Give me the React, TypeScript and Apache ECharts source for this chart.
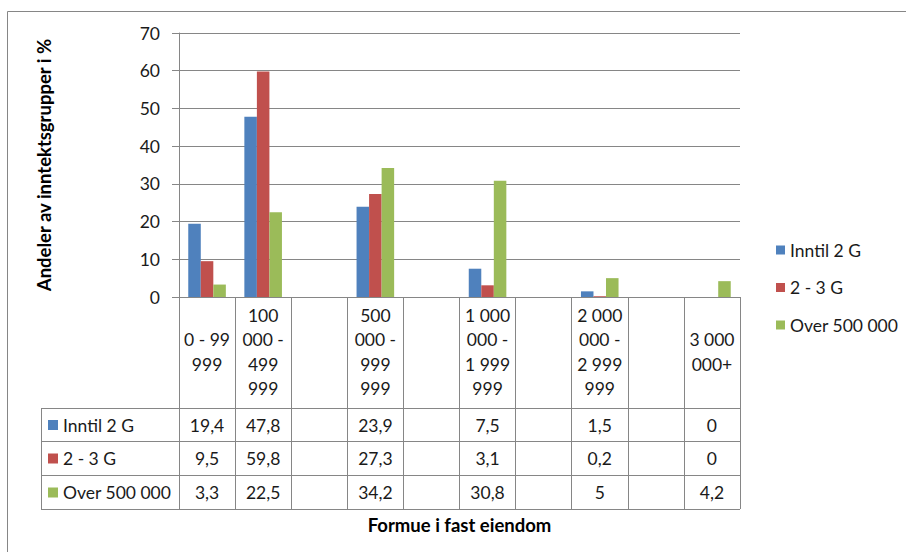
import React, { useEffect, useRef } from "react";
import * as echarts from "echarts";

// Wealth brackets (blank slots keep the uneven spacing of the brackets)
const categories = [
  "0 - 99\n999",
  "100\n000 -\n499\n999",
  "",
  "500\n000 -\n999\n999",
  "",
  "1 000\n000 -\n1 999\n999",
  "",
  "2 000\n000 -\n2 999\n999",
  "",
  "3 000\n000+",
];

const seriesNames = ["Inntil 2 G", "2 - 3 G", "Over 500 000"];
const inntil2G = [19.4, 47.8, null, 23.9, null, 7.5, null, 1.5, null, 0];
const g2til3 = [9.5, 59.8, null, 27.3, null, 3.1, null, 0.2, null, 0];
const over500 = [3.3, 22.5, null, 34.2, null, 30.8, null, 5, null, 4.2];
const colors = ["#4F81BD", "#C0504D", "#9BBB59"];

const yTitle = "Andeler av inntektsgrupper i %";
const xTitle = "Formue i fast eiendom";

const FONT = "Lato, 'Open Sans', sans-serif";
const FS = 17.5;
const FS_TITLE = 18.5;
const GRID = { left: 179, right: 166, top: 33, bottom: 255 };
const LINE = "#868686";
const TEXT = "#1a1a1a";

export default function App() {
  const ref = useRef<HTMLDivElement>(null);

  useEffect(() => {
    if (!ref.current) return;
    const chart = echarts.init(ref.current, undefined, { renderer: "svg" });
    const allSeries = [inntil2G, g2til3, over500];

    chart.setOption({
      animation: false,
      textStyle: { fontFamily: FONT },
      color: colors,
      grid: { ...GRID, containLabel: false },
      legend: {
        orient: "vertical",
        left: 771,
        top: 236,
        itemWidth: 9,
        itemHeight: 9,
        itemGap: 19.5,
        icon: "rect",
        data: seriesNames,
        textStyle: { fontSize: FS, color: TEXT, fontFamily: FONT },
      },
      xAxis: {
        type: "category",
        data: categories,
        name: xTitle,
        nameLocation: "middle",
        nameGap: 218,
        nameTextStyle: { fontSize: FS_TITLE, fontWeight: "bold", color: "#000", fontFamily: FONT },
        axisLine: { lineStyle: { color: LINE } },
        axisTick: { show: true, length: 212, interval: 0, lineStyle: { color: LINE } },
        axisLabel: {
          interval: 0,
          fontSize: FS,
          lineHeight: 24.5,
          color: TEXT,
          verticalAlign: "middle",
          margin: 55,
          fontFamily: FONT,
        },
      },
      yAxis: {
        type: "value",
        min: 0,
        max: 70,
        interval: 10,
        name: yTitle,
        nameLocation: "middle",
        nameGap: 126,
        nameTextStyle: { fontSize: FS_TITLE, fontWeight: "bold", color: "#000", fontFamily: FONT },
        axisLine: { show: true, lineStyle: { color: LINE } },
        axisTick: { show: true, length: 7, lineStyle: { color: LINE } },
        axisLabel: { fontSize: FS, color: TEXT, margin: 19, fontFamily: FONT },
        splitLine: { lineStyle: { color: LINE } },
      },
      series: seriesNames.map((name, i) => ({
        name,
        type: "bar",
        data: allSeries[i],
        barGap: "0%",
        barCategoryGap: "33%",
      })),
    });

    // Data table under the axis, aligned with the category slots
    const width = 906;
    const plotRight = width - GRID.right;
    const tableLeft = 41;
    const rowLines = [408, 441, 475, 509];
    const graphics: any[] = [];

    graphics.push({
      type: "rect",
      shape: { x: 7.5, y: 11.5, width: 930, height: 600 },
      style: { fill: "none", stroke: LINE, lineWidth: 1 },
      silent: true,
    });
    rowLines.forEach((y) => {
      graphics.push({
        type: "line",
        shape: { x1: tableLeft, y1: y + 0.5, x2: plotRight, y2: y + 0.5 },
        style: { stroke: LINE, lineWidth: 1 },
      });
    });
    graphics.push({
      type: "line",
      shape: { x1: tableLeft + 0.5, y1: rowLines[0], x2: tableLeft + 0.5, y2: rowLines[3] },
      style: { stroke: LINE, lineWidth: 1 },
    });

    seriesNames.forEach((name, r) => {
      const cy = (rowLines[r] + rowLines[r + 1]) / 2 + 0.5;
      graphics.push({
        type: "rect",
        shape: { x: 48, y: cy - 5, width: 10, height: 10 },
        style: { fill: colors[r] },
      });
      graphics.push({
        type: "text",
        x: 63,
        y: cy,
        style: {
          text: name,
          fontSize: FS,
          fontFamily: FONT,
          fill: TEXT,
          verticalAlign: "middle",
          align: "left",
        },
      });
      allSeries[r].forEach((v, c) => {
        if (v === null) return;
        const cx = chart.convertToPixel({ xAxisIndex: 0 }, c) as number;
        graphics.push({
          type: "text",
          x: cx,
          y: cy,
          style: {
            text: String(v).replace(".", ","),
            fontSize: FS,
            fontFamily: FONT,
            fill: TEXT,
            verticalAlign: "middle",
            align: "center",
          },
        });
      });
    });

    chart.setOption({ graphic: graphics });

    return () => chart.dispose();
  }, []);

  return (
    <div
      ref={ref}
      style={{ position: "fixed", left: 0, top: 0, width: 906, height: 552, background: "#fff" }}
    />
  );
}
